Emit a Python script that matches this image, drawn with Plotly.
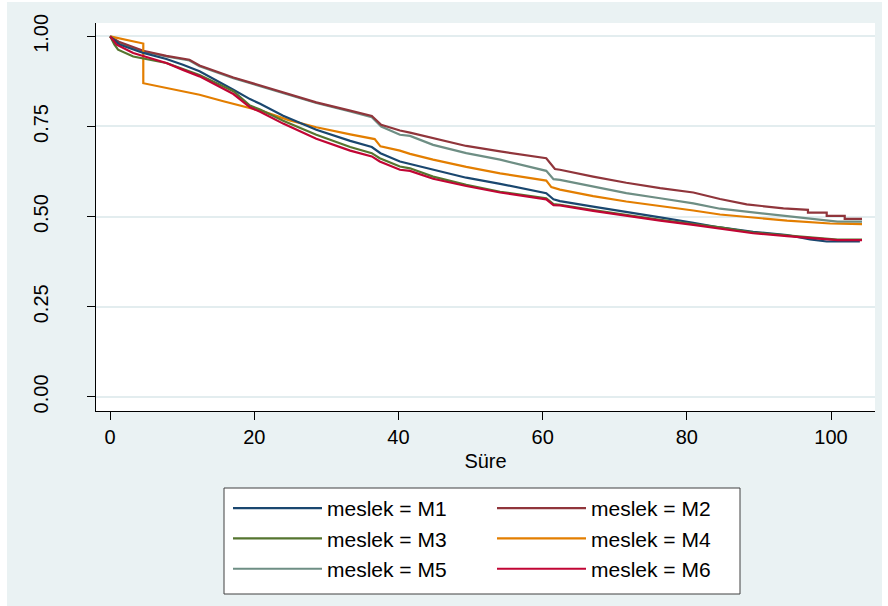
import plotly.graph_objects as go

# ---- data ----
t_m1 = [0, 1.3, 4.6, 7.8, 10.1, 12.4, 17.1, 19.4, 20.8, 24.0, 28.6, 33.3, 36.3, 37.5, 40.2, 41.6, 44.8, 49.4, 54.1, 60.5, 61.5, 62.4, 67.0, 71.6, 76.3, 80.9, 84.6, 89.2, 93.9, 97.1, 99.4, 104.0]
s_m1 = [1.0, 0.977, 0.954, 0.937, 0.921, 0.903, 0.852, 0.826, 0.813, 0.780, 0.741, 0.710, 0.693, 0.676, 0.653, 0.646, 0.630, 0.608, 0.591, 0.565, 0.548, 0.543, 0.528, 0.514, 0.498, 0.483, 0.470, 0.458, 0.449, 0.437, 0.431, 0.431]

t_m2 = [0, 1.3, 4.6, 7.8, 11.0, 12.4, 17.1, 19.4, 20.7, 24.0, 28.6, 33.3, 36.3, 37.6, 40.2, 41.6, 44.8, 49.4, 54.1, 60.5, 61.7, 62.4, 67.0, 71.6, 76.3, 80.9, 84.6, 88.3, 93.4, 96.8, 96.8, 99.4, 99.4, 101.9, 101.9, 104.3]
s_m2 = [1.0, 0.984, 0.960, 0.946, 0.935, 0.919, 0.886, 0.872, 0.863, 0.845, 0.817, 0.794, 0.779, 0.755, 0.739, 0.733, 0.718, 0.696, 0.681, 0.662, 0.632, 0.630, 0.611, 0.594, 0.579, 0.567, 0.549, 0.534, 0.523, 0.519, 0.511, 0.511, 0.502, 0.502, 0.494, 0.494]

t_m3 = [0, 0.6, 1.1, 3.2, 7.8, 12.4, 17.1, 19.4, 20.8, 24.0, 28.6, 33.3, 36.3, 37.4, 40.2, 41.6, 44.8, 49.4, 54.1, 60.5, 61.5, 62.4, 67.0, 71.6, 76.3, 80.9, 84.6, 89.2, 93.9, 98.5, 100.9, 104.3]
s_m3 = [1.0, 0.977, 0.963, 0.944, 0.926, 0.893, 0.848, 0.808, 0.797, 0.766, 0.727, 0.693, 0.676, 0.662, 0.639, 0.634, 0.611, 0.588, 0.569, 0.551, 0.535, 0.533, 0.518, 0.504, 0.491, 0.479, 0.470, 0.456, 0.448, 0.441, 0.436, 0.436]

t_m4 = [0, 4.6, 4.6, 10.6, 12.4, 15.7, 19.4, 21.2, 24.9, 28.6, 33.3, 36.0, 36.7, 37.5, 40.2, 41.6, 44.8, 49.4, 54.1, 60.5, 61.2, 62.4, 67.0, 71.6, 76.3, 80.9, 84.6, 89.2, 93.9, 99.9, 104.3]
s_m4 = [1.0, 0.980, 0.870, 0.847, 0.838, 0.820, 0.800, 0.792, 0.767, 0.748, 0.728, 0.718, 0.715, 0.695, 0.683, 0.674, 0.658, 0.638, 0.620, 0.600, 0.582, 0.575, 0.557, 0.542, 0.530, 0.517, 0.506, 0.497, 0.489, 0.481, 0.479]

t_m5 = [0, 1.3, 4.6, 7.8, 11.0, 12.4, 17.1, 19.4, 20.7, 24.0, 28.6, 33.3, 36.3, 37.6, 40.2, 41.6, 44.8, 49.4, 54.1, 60.5, 61.5, 62.4, 67.0, 71.6, 76.3, 80.9, 84.6, 89.2, 93.9, 98.5, 100.9, 104.3]
s_m5 = [1.0, 0.982, 0.958, 0.944, 0.933, 0.917, 0.884, 0.870, 0.861, 0.843, 0.815, 0.792, 0.776, 0.750, 0.727, 0.724, 0.699, 0.676, 0.658, 0.627, 0.604, 0.602, 0.583, 0.565, 0.551, 0.537, 0.522, 0.512, 0.502, 0.493, 0.486, 0.486]

t_m6 = [0, 0.9, 3.2, 7.8, 10.1, 12.4, 17.1, 19.4, 20.8, 24.0, 28.6, 33.3, 36.3, 37.4, 40.2, 41.6, 44.8, 49.4, 54.1, 60.5, 61.5, 62.4, 67.0, 71.6, 76.3, 80.9, 84.6, 89.2, 93.9, 98.5, 100.9, 104.3]
s_m6 = [1.0, 0.977, 0.954, 0.926, 0.907, 0.889, 0.840, 0.803, 0.791, 0.758, 0.716, 0.683, 0.667, 0.653, 0.630, 0.627, 0.605, 0.585, 0.567, 0.548, 0.532, 0.531, 0.516, 0.502, 0.489, 0.477, 0.467, 0.454, 0.446, 0.440, 0.435, 0.435]

series_names = ["meslek = M1", "meslek = M2", "meslek = M3", "meslek = M4", "meslek = M5", "meslek = M6"]
series_colors = ["#1A476F", "#90353B", "#55752F", "#E37E00", "#6E8E84", "#C10534"]
series_t = [t_m1, t_m2, t_m3, t_m4, t_m5, t_m6]
series_s = [s_m1, s_m2, s_m3, s_m4, s_m5, s_m6]

x_ticks = [0, 20, 40, 60, 80, 100]
y_ticks = [0.0, 0.25, 0.5, 0.75, 1.0]
y_tick_labels = ["0.00", "0.25", "0.50", "0.75", "1.00"]

BG = "#EAF2F3"
FONT = "Liberation Sans, Arial, sans-serif"

fig = go.Figure()
# draw order so that overlapping matches reference (red on top)
for i in [4, 1, 3, 0, 2, 5]:
    fig.add_trace(go.Scatter(x=series_t[i], y=series_s[i], mode="lines",
                             name=series_names[i], legendrank=i + 1,
                             line=dict(color=series_colors[i], width=2.2)))

W, H = 888, 606
ml, mr, mt, mb = 96, 13, 23, 195
pw, ph = W - ml - mr, H - mt - mb

def px2paper_x(px):
    return (px - ml) / pw

def py2paper_y(py):
    return (H - mb - py) / ph

fig.update_layout(
    width=W, height=H,
    margin=dict(l=ml, r=mr, t=mt, b=mb, pad=0, autoexpand=False),
    paper_bgcolor="white",
    plot_bgcolor="white",
    font=dict(family=FONT, size=20, color="black"),
    shapes=[
        dict(type="rect", xref="paper", yref="paper", layer="below",
             x0=px2paper_x(7), x1=px2paper_x(882), y0=py2paper_y(606), y1=py2paper_y(2),
             fillcolor=BG, line=dict(width=0)),
        dict(type="rect", xref="paper", yref="paper", layer="below",
             x0=0, x1=1, y0=0, y1=1, fillcolor="white", line=dict(width=0)),
        dict(type="rect", xref="paper", yref="paper", layer="below",
             x0=px2paper_x(224), x1=px2paper_x(740), y0=py2paper_y(594), y1=py2paper_y(488),
             fillcolor="white", line=dict(color="#404040", width=1)),
    ],
    xaxis=dict(range=[-1.96, 106.1], tickvals=x_ticks, ticks="outside", ticklen=8,
               tickcolor="black", showline=True, linecolor="black", linewidth=1,
               showgrid=False, zeroline=False, mirror=False,
               title=dict(text="Süre", font=dict(size=20), standoff=6),
               tickfont=dict(size=20)),
    yaxis=dict(range=[-0.039, 1.037], tickvals=y_ticks, ticktext=y_tick_labels,
               ticks="outside", ticklen=8, tickcolor="black", tickangle=-90,
               showline=True, linecolor="black", linewidth=1,
               showgrid=True, gridcolor="#E3EDEF", gridwidth=1.5, zeroline=False,
               tickfont=dict(size=20), ticklabelstandoff=31),
    legend=dict(orientation="h", x=px2paper_x(228), y=py2paper_y(488),
                xanchor="left", yanchor="top", bgcolor="rgba(0,0,0,0)",
                borderwidth=0,
                font=dict(size=21), itemwidth=89, entrywidth=160,
                tracegroupgap=0, traceorder="normal"),
)

fig.write_html("out.html", config={"displayModeBar": False},
               post_script="document.body.style.margin='0';")
